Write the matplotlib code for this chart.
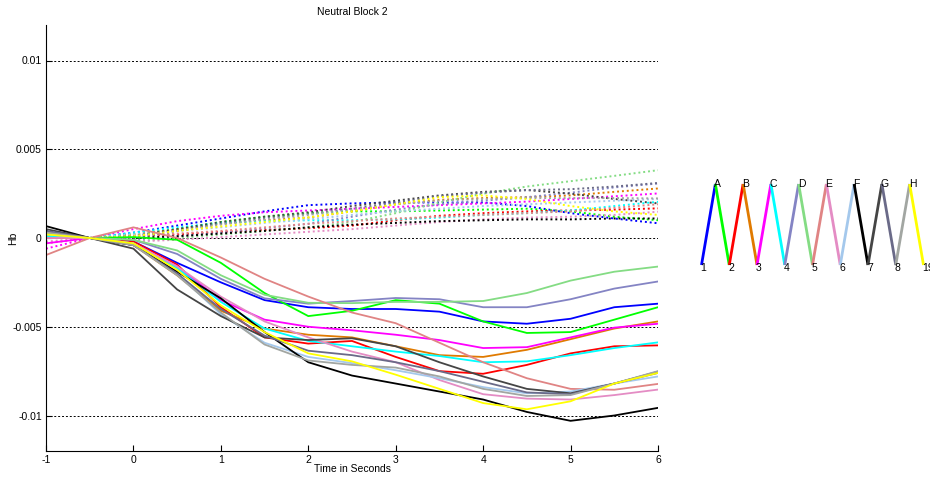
import numpy as np
import matplotlib
matplotlib.use("Agg")
import matplotlib.pyplot as plt

plt.rcParams['font.family'] = ['Liberation Sans', 'DejaVu Sans']
plt.rcParams['axes.unicode_minus'] = False

# time axis (seconds) and values in units of 1e-3
t = [-1, -0.5, 0, 0.5, 1, 1.5, 2, 2.5, 3, 3.5, 4, 4.5, 5, 5.5, 6]
scale = 1e-3

channel_colors = ['#0000ff', '#00ff00', '#ff0000', '#e07a00', '#ff00ff', '#00ffff',
                  '#8484c4', '#84dc84', '#e08484', '#e48cc4', '#a4c8ec', '#000000',
                  '#454545', '#6a6a88', '#a2a6a2', '#ffff00']

# solid curves, one per channel
solid = [
    [0.3, 0, -0.2, -1.4, -2.5, -3.5, -3.9, -4.0, -4.0, -4.15, -4.7, -4.83, -4.55, -3.9, -3.7],     # blue
    [0.2, 0, 0.05, -0.1, -1.4, -3.1, -4.4, -4.1, -3.5, -3.7, -4.7, -5.35, -5.3, -4.6, -3.9],      # green
    [0.0, 0, -0.2, -1.5, -3.9, -5.6, -5.95, -5.8, -6.7, -7.5, -7.65, -7.15, -6.5, -6.1, -6.05],   # red
    [0.3, 0, -0.4, -2.1, -4.1, -5.1, -5.45, -5.6, -6.1, -6.6, -6.7, -6.3, -5.7, -5.1, -4.7],      # orange
    [-0.3, 0, -0.3, -1.6, -3.5, -4.6, -5.0, -5.2, -5.45, -5.75, -6.2, -6.15, -5.6, -5.05, -4.83], # magenta
    [0.1, 0, -0.3, -1.7, -3.6, -5.1, -5.8, -6.1, -6.4, -6.65, -7.0, -6.95, -6.6, -6.2, -5.88],    # cyan
    [0.2, 0, -0.1, -0.9, -2.3, -3.4, -3.7, -3.55, -3.38, -3.45, -3.9, -3.9, -3.45, -2.85, -2.45], # slate purple
    [0.3, 0, -0.1, -0.7, -2.1, -3.2, -3.65, -3.67, -3.6, -3.6, -3.55, -3.1, -2.4, -1.9, -1.61],   # light green
    [-0.96, 0, 0.6, 0.0, -1.1, -2.3, -3.3, -4.2, -4.8, -5.9, -7.0, -7.9, -8.5, -8.55, -8.22],     # salmon
    [0.0, 0, -0.3, -1.6, -3.3, -4.7, -5.6, -6.4, -7.0, -8.0, -8.8, -9.05, -9.1, -8.85, -8.54],    # pink
    [0.2, 0, -0.4, -2.0, -4.3, -5.9, -6.7, -7.05, -7.45, -7.9, -8.4, -8.75, -8.65, -8.2, -7.8],   # light blue
    [0.67, 0, -0.4, -1.9, -3.4, -5.3, -7.0, -7.75, -8.2, -8.65, -9.1, -9.8, -10.3, -10.0, -9.57], # black
    [0.5, 0, -0.6, -2.9, -4.4, -5.6, -5.75, -5.65, -6.1, -7.0, -7.8, -8.5, -8.75, -8.2, -7.53],   # dark grey
    [0.4, 0, -0.4, -2.0, -4.0, -5.5, -6.35, -6.6, -7.0, -7.5, -8.1, -8.7, -8.8, -8.2, -7.6],      # slate
    [0.3, 0, -0.4, -2.1, -4.2, -6.0, -6.9, -7.15, -7.3, -7.8, -8.5, -8.9, -8.85, -8.2, -7.5],     # light grey
    [0.2, 0, -0.3, -1.8, -3.8, -5.3, -6.5, -6.95, -7.7, -8.5, -9.3, -9.65, -9.2, -8.2, -7.6],     # yellow
]

# dotted curves, one per channel
dotted = [
    [0.2, 0, 0.3, 0.7, 1.1, 1.5, 1.85, 1.95, 2.0, 2.0, 2.0, 1.8, 1.4, 1.1, 0.83],
    [0.0, 0, 0.2, 0.5, 0.9, 1.2, 1.4, 1.5, 1.5, 1.55, 1.6, 1.65, 1.5, 1.2, 1.0],
    [0.0, 0, 0.1, 0.2, 0.35, 0.45, 0.55, 0.7, 1.0, 1.25, 1.4, 1.5, 1.55, 1.6, 1.67],
    [0.1, 0, 0.2, 0.5, 0.8, 1.0, 1.15, 1.5, 1.9, 2.15, 2.25, 2.3, 2.4, 2.6, 2.79],
    [-0.6, 0, 0.5, 0.95, 1.25, 1.45, 1.55, 1.65, 1.75, 1.85, 1.95, 2.05, 2.2, 2.35, 2.51],
    [0.1, 0, 0.3, 0.6, 0.85, 0.95, 1.0, 1.0, 1.05, 1.15, 1.3, 1.4, 1.55, 1.8, 2.04],
    [0.2, 0, -0.1, 0.1, 0.3, 0.55, 0.8, 1.2, 1.6, 1.9, 2.1, 2.3, 2.55, 2.85, 3.07],
    [0.0, 0, -0.2, 0.0, 0.2, 0.4, 0.6, 0.9, 1.4, 2.0, 2.5, 2.9, 3.2, 3.5, 3.82],
    [-0.3, 0, 0.1, 0.25, 0.4, 0.6, 0.8, 0.95, 1.1, 1.2, 1.3, 1.4, 1.5, 1.7, 1.9],
    [-0.2, 0, -0.2, -0.1, 0.05, 0.2, 0.35, 0.5, 0.7, 0.9, 1.05, 1.15, 1.2, 1.3, 1.48],
    [0.3, 0, 0.2, 0.4, 0.6, 0.85, 1.05, 1.3, 1.5, 1.65, 1.8, 1.9, 2.0, 2.1, 2.2],
    [0.4, 0, 0.0, 0.1, 0.25, 0.4, 0.6, 0.75, 0.85, 0.95, 1.0, 1.05, 1.05, 1.1, 1.1],
    [0.3, 0, 0.1, 0.5, 0.9, 1.2, 1.45, 1.8, 2.1, 2.4, 2.6, 2.7, 2.5, 2.2, 1.95],
    [0.2, 0, 0.0, 0.4, 0.8, 1.1, 1.35, 1.65, 2.0, 2.35, 2.55, 2.7, 2.75, 2.9, 3.1],
    [0.3, 0, 0.1, 0.4, 0.75, 1.05, 1.3, 1.6, 1.9, 2.1, 2.2, 2.25, 2.25, 2.25, 2.23],
    [0.1, 0, 0.1, 0.4, 0.65, 0.9, 1.16, 1.5, 1.9, 2.3, 2.4, 2.2, 1.8, 1.5, 1.3],
]

top_labels = ['A', 'B', 'C', 'D', 'E', 'F', 'G', 'H']
bottom_labels = ['1', '2', '3', '4', '5', '6', '7', '8', '19']

W, H = 930, 478
fig = plt.figure(figsize=(W / 100, H / 100), dpi=100)
ax = fig.add_axes([46 / W, 1 - 451 / H, (658 - 46) / W, (451 - 25) / H])

tt = np.array(t)
for i, col in enumerate(channel_colors):
    ax.plot(tt, np.array(dotted[i]) * scale, color=col, lw=1.4, ls=(0, (1, 1.5)))
for i, col in enumerate(channel_colors):
    ax.plot(tt, np.array(solid[i]) * scale, color=col, lw=1.3)

ax.set_xlim(-1, 6)
ax.set_ylim(-0.012, 0.012)
ax.set_yticks([-0.01, -0.005, 0, 0.005, 0.01])
ax.set_yticklabels(['-0.01', '-0.005', '0', '0.005', '0.01'])
ax.set_xticks(range(-1, 7))
ax.yaxis.grid(True, color='k', lw=0.7, ls=(0, (2, 2)))
ax.spines['top'].set_visible(False)
ax.spines['right'].set_visible(False)
ax.tick_params(direction='in', length=4, labelsize=7.5, pad=3)
ax.set_title('Neutral Block 2', fontsize=7.5, pad=7)
ax.set_xlabel('Time in Seconds', fontsize=7.5, labelpad=-1)
ax.set_ylabel('Hb', fontsize=7.5)
ax.yaxis.set_label_coords(-0.045, 0.5)

# channel layout sketch on the right
lax = fig.add_axes([0, 0, 1, 1])
lax.set_xlim(0, W)
lax.set_ylim(H, 0)
lax.axis('off')
x0, dx = 701.5, 27.75
y_bot, y_top = 265, 184
px, py = [], []
for k in range(len(bottom_labels) + len(top_labels)):
    if k % 2 == 0:
        px.append(x0 + (k // 2) * dx)
        py.append(y_bot)
    else:
        px.append(x0 + dx / 2 + (k // 2) * dx)
        py.append(y_top)
for k, col in enumerate(channel_colors):
    lax.plot(px[k:k + 2], py[k:k + 2], color=col, lw=2.0, solid_capstyle='butt')
for k, lab in enumerate(bottom_labels):
    lax.text(x0 + k * dx - 1, y_bot + 3, lab, fontsize=7.5, ha='left', va='center')
for k, lab in enumerate(top_labels):
    lax.text(x0 + dx / 2 + k * dx - 1, y_top, lab, fontsize=7.5, ha='left', va='center')

fig.savefig('out.png', dpi=100)
